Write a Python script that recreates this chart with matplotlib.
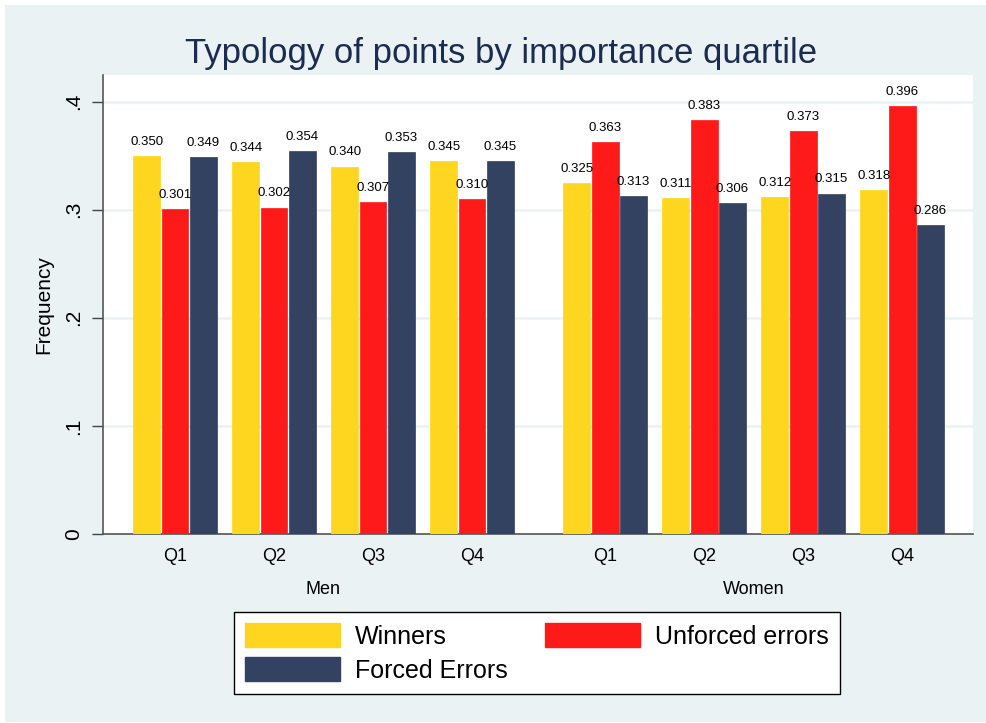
import matplotlib
matplotlib.use("Agg")
import matplotlib.pyplot as plt
import matplotlib.transforms as mtransforms
from matplotlib.patches import Patch, Rectangle
import numpy as np

plt.rcParams['font.family'] = ['Liberation Sans', 'DejaVu Sans']

title = "Typology of points by importance quartile"
groups = ["Men", "Women"]
quartiles = ["Q1", "Q2", "Q3", "Q4"]
series = ["Winners", "Unforced errors", "Forced Errors"]
winners_men = [0.350, 0.344, 0.340, 0.345]
unforced_men = [0.301, 0.302, 0.307, 0.310]
forced_men = [0.349, 0.354, 0.353, 0.345]
winners_women = [0.325, 0.311, 0.312, 0.318]
unforced_women = [0.363, 0.383, 0.373, 0.396]
forced_women = [0.313, 0.306, 0.315, 0.286]
yticks = [0, 0.1, 0.2, 0.3, 0.4]
ytick_labels = ["0", ".1", ".2", ".3", ".4"]

colors = ["#FFD61F", "#FF1A1A", "#344262"]
bg = "#EAF2F3"

W, H = 987, 723
fig = plt.figure(figsize=(W/100, H/100), dpi=100)
fig.patch.set_facecolor("white")
fig.patches.append(Rectangle((5/W, 1/H), 1.0, 1 - 6/H, transform=fig.transFigure,
                             facecolor=bg, edgecolor="none", zorder=-10))

ax = fig.add_axes([103/W, 1-534/H, (973-103)/W, (534-75)/H])
ax.set_facecolor("white")

group_gap = 1.344
base_men = np.arange(4, dtype=float)
base_women = base_men + 3 + group_gap
centers = np.concatenate([base_men, base_women])
data = [winners_men + winners_women,
        unforced_men + unforced_women,
        forced_men + forced_women]
offsets = [-0.286, 0.0, 0.286]
width = 0.272

for s, (vals, off, col) in enumerate(zip(data, offsets, colors)):
    bars = ax.bar(centers + off, vals, width=width, color=col, edgecolor=col,
                  linewidth=0.5, zorder=3, label=series[s])
    for b, v in zip(bars, vals):
        ax.annotate(f"{v:.3f}", (b.get_x() + b.get_width()/2, v),
                    xytext=(0, 8), textcoords="offset points",
                    ha="center", va="baseline", fontsize=9.5, color="black",
                    zorder=5)

ax.set_xlim(-0.727, 8.06)
ax.set_ylim(0, 0.4247)
ax.set_yticks(yticks)
ax.set_yticklabels(ytick_labels, rotation=90, va="center", fontsize=15)
ax.set_xticks(centers)
ax.set_xticklabels(quartiles * 2, fontsize=13)
ax.tick_params(axis="x", length=0, pad=10)
ax.tick_params(axis="y", length=8, width=1, color="#444444", pad=6)
ax.yaxis.grid(True, color=bg, linewidth=1.8, zorder=0)
ax.set_axisbelow(True)
for side in ["top", "right"]:
    ax.spines[side].set_visible(False)
for side in ["left", "bottom"]:
    ax.spines[side].set_color("#555555")
    ax.spines[side].set_linewidth(1.2)

ax.set_ylabel("Frequency", fontsize=15, labelpad=8)

trans = mtransforms.blended_transform_factory(ax.transData, fig.transFigure)
ax.text(base_men.mean(), 1-590/H, groups[0], transform=trans, ha="center",
        va="center", fontsize=13)
ax.text(base_women.mean(), 1-590/H, groups[1], transform=trans, ha="center",
        va="center", fontsize=13)

fig.text(0.508, 1-53/H, title, ha="center", va="center", fontsize=25,
         color="#1C2C50")

handles = [Patch(facecolor=c, edgecolor=c) for c in colors]
order = [0, 2, 1]
leg = fig.legend([handles[i] for i in order], [series[i] for i in order],
                 loc="center", ncol=2,
                 bbox_to_anchor=(537/W, 1-653/H), bbox_transform=fig.transFigure,
                 fontsize=18, frameon=True, fancybox=False, shadow=False,
                 handlelength=3.8, handleheight=1.1, handletextpad=0.6,
                 columnspacing=1.5, labelspacing=0.35, borderpad=0.45,
                 borderaxespad=0)
leg.get_frame().set_edgecolor("black")
leg.get_frame().set_linewidth(1.0)
leg.get_frame().set_facecolor("white")
leg.get_frame().set_alpha(1)

fig.savefig("out.png", dpi=100, facecolor=fig.get_facecolor())
